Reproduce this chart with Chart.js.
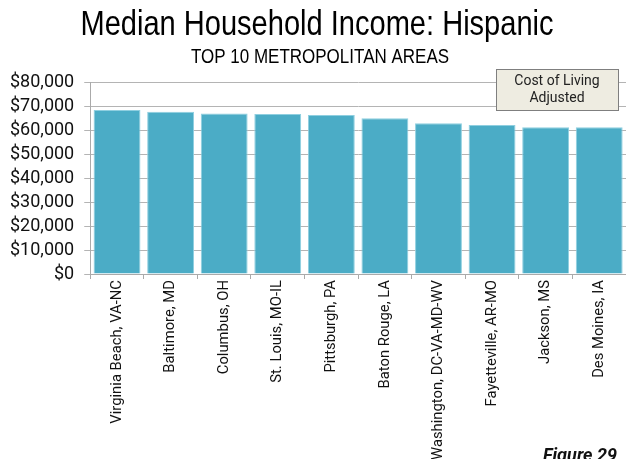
<!DOCTYPE html>
<html>
<head>
<meta charset="utf-8">
<script src="https://cdn.jsdelivr.net/npm/chart.js@4"></script>
<style>
  html, body { margin: 0; padding: 0; background: #fff; }
  #wrap { width: 626px; height: 459px; position: relative; }
</style>
</head>
<body>
<div id="wrap"><canvas id="income"></canvas></div>
<script>
const metros = [
    'Virginia Beach, VA-NC',
    'Baltimore, MD',
    'Columbus, OH',
    'St. Louis, MO-IL',
    'Pittsburgh, PA',
    'Baton Rouge, LA',
    'Washington, DC-VA-MD-WV',
    'Fayetteville, AR-MO',
    'Jackson, MS',
    'Des Moines, IA'
];
const incomeAdjusted = [68300, 67600, 66900, 66700, 66200, 64900, 62800, 62100, 61100, 61100];
const yTicks = [0, 10000, 20000, 30000, 40000, 50000, 60000, 70000, 80000];

const titleText = 'Median Household Income: Hispanic';
const subtitleText = 'TOP 10 METROPOLITAN AREAS';

// narrow title text, note box and figure label
const extrasPlugin = {
    id: 'extras',
    afterDraw(chart) {
        const ctx = chart.ctx;
        const area = chart.chartArea;
        ctx.save();
        ctx.fillStyle = '#000';
        ctx.textAlign = 'center';
        ctx.textBaseline = 'alphabetic';

        // condensed look, no narrow font available so squeeze it
        ctx.save();
        ctx.translate(317, 35);
        ctx.scale(0.83, 1);
        ctx.font = "35px 'Liberation Sans'";
        ctx.fillText(titleText, 0, 0);
        ctx.restore();

        ctx.save();
        ctx.translate(320, 63);
        ctx.scale(0.85, 1);
        ctx.font = "20px 'Liberation Sans'";
        ctx.fillText(subtitleText, 0, 0);
        ctx.restore();

        // "Cost of Living Adjusted" box
        const bx = area.right - 130, by = area.top - 13, bw = 122, bh = 41;
        ctx.fillStyle = '#eeece1';
        ctx.fillRect(bx, by, bw, bh);
        ctx.strokeStyle = '#7f7f7f';
        ctx.lineWidth = 1;
        ctx.strokeRect(bx + 0.5, by + 0.5, bw, bh);
        ctx.fillStyle = '#222';
        ctx.font = '14px Roboto';
        ctx.textBaseline = 'middle';
        ctx.fillText('Cost of Living', bx + bw / 2, by + 12);
        ctx.fillText('Adjusted', bx + bw / 2, by + 29);

        // figure number
        ctx.font = 'italic bold 18px Roboto';
        ctx.textAlign = 'right';
        ctx.textBaseline = 'alphabetic';
        ctx.fillStyle = '#111';
        ctx.fillText('Figure 29', 617, 461);
        ctx.restore();
    }
};

const ctx = document.getElementById('income').getContext('2d');
const incomeChart = new Chart(ctx, {
    type: 'bar',
    data: {
        labels: metros,
        datasets: [{
            label: titleText,
            data: incomeAdjusted,
            backgroundColor: '#4bacc6',
            borderColor: '#8fcfe0',
            borderWidth: 1,
            barPercentage: 0.875,
            categoryPercentage: 1.0
        }]
    },
    options: {
        responsive: true,
        maintainAspectRatio: false,
        animation: false,
        devicePixelRatio: 1,
        layout: {
            padding: { left: 0, right: 0, top: 82, bottom: 0 }
        },
        plugins: {
            legend: { display: false },
            tooltip: { enabled: false }
        },
        scales: {
            x: {
                afterFit(axis) {
                    axis.height = 185;
                },
                grid: {
                    display: true,
                    drawOnChartArea: false,
                    drawTicks: true,
                    tickLength: 5,
                    color: '#aaa',
                    offset: true
                },
                border: { color: '#aaa' },
                ticks: {
                    minRotation: 90,
                    maxRotation: 90,
                    autoSkip: false,
                    color: '#111',
                    padding: 1,
                    font: { family: 'Roboto', size: 14.8 }
                }
            },
            y: {
                min: 0,
                max: 80000,
                afterBuildTicks(axis) {
                    axis.ticks = yTicks.map(v => ({ value: v }));
                },
                grid: {
                    color: '#b4b4b4',
                    tickLength: 6
                },
                border: { color: '#aaa' },
                ticks: {
                    autoSkip: false,
                    color: '#111',
                    padding: 10,
                    font: { family: 'Roboto', size: 18 },
                    callback: v => '$' + Number(v).toLocaleString('en-US')
                }
            }
        }
    },
    plugins: [extrasPlugin]
});
</script>
</body>
</html>
